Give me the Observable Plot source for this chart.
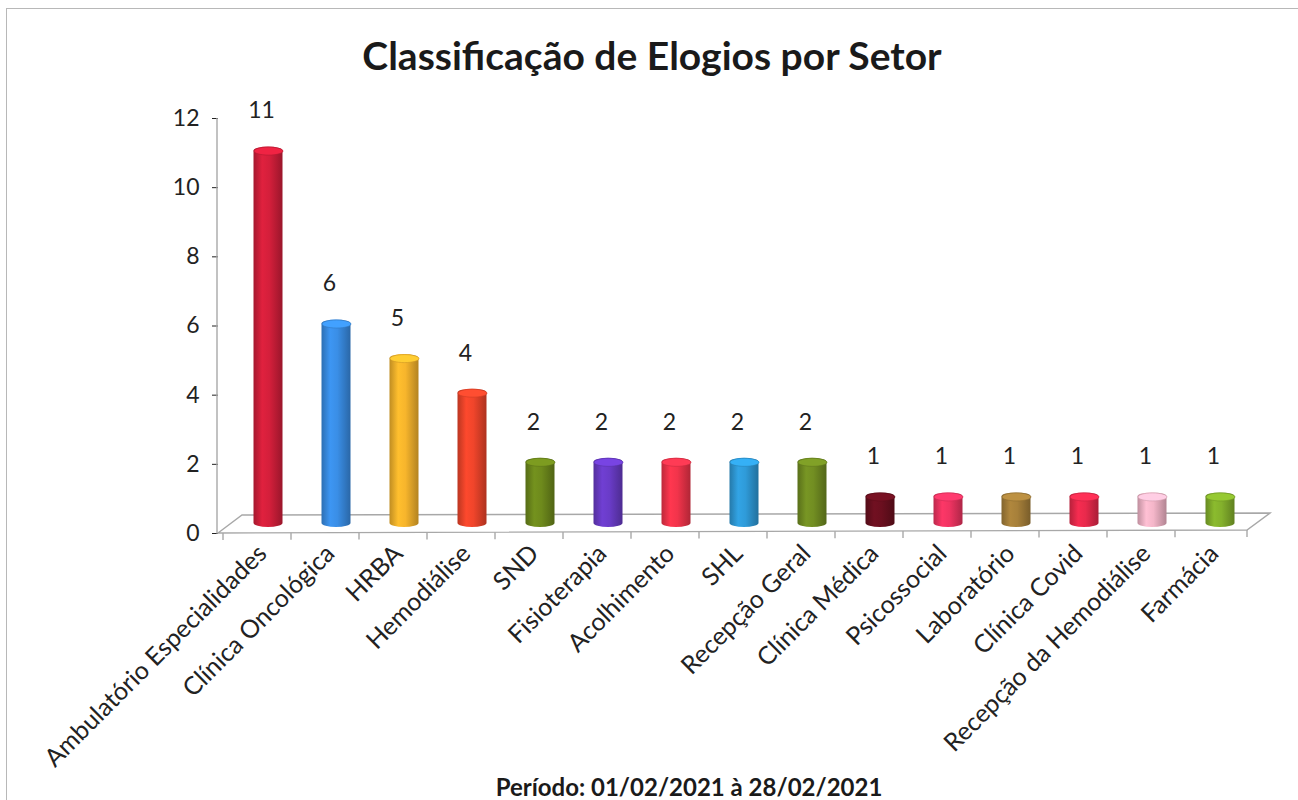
<!DOCTYPE html>
<html>
<head>
<meta charset="utf-8">
<script src="https://cdn.jsdelivr.net/npm/d3@7"></script>
<script src="https://cdn.jsdelivr.net/npm/@observablehq/plot@0.6"></script>
<style>
  body { margin: 0; background: #fff; font-family: Lato, "Open Sans", sans-serif; }
  #wrap { position: relative; width: 1298px; height: 800px; overflow: hidden; background: #fff; }
  #frame { position: absolute; left: 6px; top: 8px; width: 1400px; height: 900px; border: 1.5px solid #b8b8b8; box-sizing: border-box; }
  #title { position: absolute; top: 32px; left: 0; width: 1304px; text-align: center; font-weight: 700; font-size: 39px; color: #1a1a1a; line-height: 46px; }
  #chart { position: absolute; left: 0; top: 95px; }
  #caption { position: absolute; top: 772px; left: 0; width: 1378px; text-align: center; font-weight: 700; font-size: 24px; color: #1a1a1a; line-height: 30px; }
</style>
</head>
<body>
<div id="wrap">
  <div id="frame"></div>
  <div id="title">Classificação de Elogios por Setor</div>
  <div id="chart"></div>
  <div id="caption">Período: 01/02/2021 à 28/02/2021</div>
</div>
<script>
// ---- data ----
const categories = [
  "Ambulatório Especialidades", "Clínica Oncológica", "HRBA", "Hemodiálise", "SND",
  "Fisioterapia", "Acolhimento", "SHL", "Recepção Geral", "Clínica Médica",
  "Psicossocial", "Laboratório", "Clínica Covid", "Recepção da Hemodiálise", "Farmácia"
];
const values = [11, 6, 5, 4, 2, 2, 2, 2, 2, 1, 1, 1, 1, 1, 1];
const barColors = [
  "#d41f3b", "#3a8ee6", "#f7b52c", "#f0452b", "#6e8a1c",
  "#6a3cc8", "#f2344b", "#2f9bd9", "#728e22", "#6b0f1f",
  "#f03462", "#a7803a", "#e92a4c", "#f4b6c9", "#84b12c"
];
const yTicks = [0, 2, 4, 6, 8, 10, 12];

const data = categories.map((setor, i) => ({ setor, valor: values[i], cor: barColors[i], i }));

// 3D offsets of the cylinders relative to the axes
const DX = 11, DY = -6, RY = 4;

// ellipse symbol for cylinder tops
const ellipse = {
  draw(ctx) {
    const rx = 14.5, ry = RY, k = 0.5523;
    ctx.moveTo(rx, 0);
    ctx.bezierCurveTo(rx, ry * k, rx * k, ry, 0, ry);
    ctx.bezierCurveTo(-rx * k, ry, -rx, ry * k, -rx, 0);
    ctx.bezierCurveTo(-rx, -ry * k, -rx * k, -ry, 0, -ry);
    ctx.bezierCurveTo(rx * k, -ry, rx, -ry * k, rx, 0);
    ctx.closePath();
  }
};

const defsMark = () => {
  const defs = d3.create("svg:defs");
  data.forEach(d => {
    const c = d3.color(d.cor);
    const g = defs.append("linearGradient").attr("id", "cyl" + d.i)
      .attr("x1", 0).attr("x2", 1).attr("y1", 0).attr("y2", 0);
    g.append("stop").attr("offset", "0%").attr("stop-color", c.darker(0.7).formatHex());
    g.append("stop").attr("offset", "30%").attr("stop-color", c.brighter(0.15).formatHex());
    g.append("stop").attr("offset", "55%").attr("stop-color", c.formatHex());
    g.append("stop").attr("offset", "100%").attr("stop-color", c.darker(0.9).formatHex());
  });
  return defs.node();
};

const floorMark = (index, scales, values, dims) => {
  const x = scales.x, y = scales.y;
  const x0 = dims.marginLeft, x1 = dims.width - dims.marginRight, y0 = y(0);
  const g = d3.create("svg:g").attr("fill", "none").attr("stroke", "#a8a8a8").attr("stroke-width", 1.4);
  g.append("path").attr("d", `M${x0},${y0}L${x1},${y0 - 3}L${x1 + 23},${y0 - 20}L${x0 + 24},${y0 - 18}Z`);
  g.append("line").attr("x1", x0 - 1).attr("x2", x0 - 1).attr("y1", y(12)).attr("y2", y0);
  const bounds = categories.map(c => x(c)).concat([x1]);
  bounds.forEach((bx) => {
    const yy = y0 - 3 * (bx - x0) / (x1 - x0);
    g.append("line").attr("x1", bx).attr("x2", bx).attr("y1", yy).attr("y2", yy + 7);
  });
  return g.node();
};

const chart = Plot.plot({
  width: 1298,
  height: 700,
  marginTop: 23,
  marginBottom: 262,
  marginLeft: 218,
  marginRight: 51,
  style: { fontFamily: "Lato, 'Open Sans', sans-serif", fontSize: "23px", color: "#222", background: "transparent" },
  x: { type: "band", domain: categories, padding: 0, axis: null },
  y: { domain: [0, 12], ticks: yTicks, tickSize: 6, tickPadding: 13, label: null, tickFormat: d => String(d) },
  marks: [
    defsMark,
    floorMark,
    Plot.barY(data, {
      x: "setor", y: "valor",
      fill: d => `url(#cyl${d.i})`,
      insetLeft: 19.5, insetRight: 19.5,
      rx: 15, ry: RY,
      dx: DX, dy: DY
    }),
    Plot.dot(data, {
      x: "setor", y: "valor",
      symbol: ellipse, r: 5,
      fill: d => d3.color(d.cor).brighter(0.35).formatHex(),
      stroke: d => d3.color(d.cor).darker(0.5).formatHex(),
      strokeWidth: 0.6,
      dx: DX, dy: DY + RY
    }),
    Plot.text(data, {
      x: "setor", y: "valor", text: d => String(d.valor),
      dx: 4, dy: -42, fill: "#222", fontSize: 23
    }),
    Plot.text(data, {
      x: "setor", y: () => 0, text: "setor",
      rotate: -45, textAnchor: "end", lineAnchor: "middle",
      dx: 5, dy: 16, fill: "#222", fontSize: 25
    })
  ]
});
document.getElementById("chart").appendChild(chart);
</script>
</body>
</html>
